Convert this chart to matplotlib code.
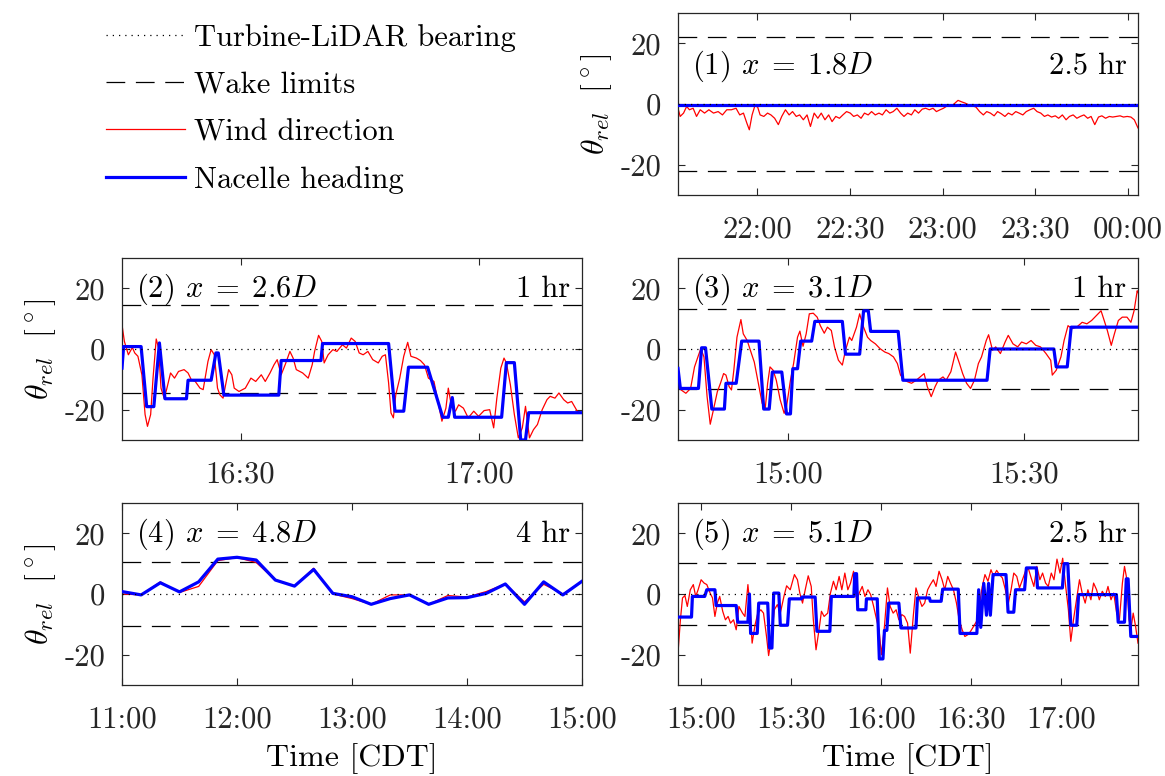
import numpy as np
import matplotlib
matplotlib.use("Agg")
import matplotlib.pyplot as plt
from matplotlib.lines import Line2D
from matplotlib.ticker import FixedLocator, FuncFormatter

plt.rcParams['font.family'] = 'serif'
plt.rcParams['font.serif'] = ['cmr10']
plt.rcParams['mathtext.fontset'] = 'cm'
plt.rcParams['axes.unicode_minus'] = False
plt.rcParams['axes.formatter.use_mathtext'] = False

# ---- case 1: x = 1.8D, minutes after 22:00 ----
p1_wind_t = [-25.7, -25.0, -23.9, -22.9, -22.0, -20.8, -19.7, -18.5, -17.1, -15.7, -14.2, -12.7,
             -11.3, -9.9, -8.4, -6.9, -5.7, -4.5, -3.4, -2.6, -1.7, -0.8, 0.1, 0.9, 2.1, 3.3,
             4.4, 5.6, 6.8, 7.9, 9.1, 10.3, 11.4, 12.6, 13.7, 14.9, 16.1, 17.2, 18.4, 19.6,
             20.7, 21.9, 23.1, 24.2, 25.4, 26.6, 27.7, 28.9, 30.1, 31.2, 32.4, 33.6, 34.7,
             35.9, 37.0, 38.2, 39.4, 40.5, 41.7, 42.9, 44.0, 45.2, 46.4, 47.5, 48.7, 49.9,
             51.0, 52.2, 53.4, 54.5, 55.7, 56.9, 58.0, 59.2, 60.3, 61.5, 62.7, 63.8, 65.0,
             66.2, 67.3, 68.5, 69.7, 70.8, 72.0, 73.2, 74.3, 75.5, 76.7, 77.8, 79.0, 80.2,
             81.3, 82.5, 83.7, 84.8, 86.0, 87.1, 88.3, 89.5, 90.6, 91.8, 93.0, 94.1, 95.3,
             96.5, 97.6, 98.8, 100.0, 101.1, 102.3, 103.5, 104.6, 105.8, 107.0, 108.1,
             109.3, 110.5, 111.6, 112.8, 114.0, 115.1, 116.3, 117.5, 118.6, 119.8, 121.0,
             122.1, 123.3]
p1_wind_deg = [-1.4, -4.1, -3.0, -0.8, -1.9, -1.4, -4.1, -1.9, -3.0, -1.9, -3.0, -2.5,
               -3.6, -1.9, -1.9, -1.4, -3.6, -3.0, -6.3, -8.5, -3.6, -0.6, -1.0, -3.6, -4.1,
               -3.0, -3.6, -4.7, -6.8, -4.1, -1.9, -3.6, -2.5, -4.1, -3.6, -5.2, -3.6, -7.4,
               -3.0, -4.7, -3.0, -5.2, -3.6, -5.8, -4.1, -4.7, -3.6, -2.5, -3.0, -4.1, -3.6,
               -4.7, -3.0, -3.6, -2.5, -3.6, -3.0, -3.6, -1.9, -3.0, -2.5, -1.4, -3.0, -4.1,
               -3.0, -3.6, -1.9, -3.0, -1.7, -1.4, -1.9, -1.4, -2.5, -1.9, -1.4, -0.6, -0.8,
               0.1, 1.2, 0.7, 0.3, -0.3, -0.6, -1.0, -2.5, -3.6, -2.5, -3.0, -3.9, -2.5,
               -3.2, -4.1, -3.0, -3.6, -2.5, -3.0, -3.6, -2.5, -1.9, -1.4, -2.5, -3.0, -4.1,
               -3.6, -4.3, -3.9, -4.7, -3.6, -5.2, -4.1, -3.6, -4.7, -4.1, -3.6, -4.7, -4.1,
               -6.8, -4.3, -3.9, -4.7, -4.1, -4.3, -4.1, -3.9, -4.3, -4.1, -4.3, -5.2, -7.9]
p1_nac_t = [-25.7, 123.3]
p1_nac_deg = [-0.3, -0.3]

# ---- case 2: x = 2.6D, minutes after 16:00 ----
p2_wind_t = [15.1, 15.4, 15.9, 16.4, 16.7, 17.1, 17.6, 18.0, 18.3, 18.7, 19.0, 19.4, 19.7,
             20.0, 20.4, 20.7, 21.2, 21.7, 22.2, 22.9, 23.4, 23.8, 24.3, 24.9, 25.3, 25.9,
             26.3, 26.7, 27.1, 27.4, 27.8, 28.2, 28.5, 28.9, 29.2, 29.8, 30.6, 31.3, 31.9,
             32.6, 33.1, 33.7, 34.2, 34.6, 35.1, 35.6, 36.2, 36.6, 37.0, 37.8, 38.5, 39.0,
             39.3, 39.8, 40.2, 40.5, 41.0, 41.6, 42.1, 42.8, 43.3, 43.9, 44.4, 44.9, 45.4,
             46.0, 46.6, 47.3, 47.8, 48.2, 48.6, 48.9, 49.2, 49.5, 50.0, 50.5, 51.0, 51.4,
             52.1, 52.6, 53.1, 53.6, 54.3, 54.8, 55.3, 55.8, 56.1, 56.5, 57.0, 57.4, 58.0,
             58.6, 59.3, 59.9, 60.6, 61.3, 61.8, 62.2, 62.7, 63.1, 63.4, 63.9, 64.4, 64.9,
             65.4, 65.8, 66.3, 66.8, 67.3, 67.9, 68.5, 68.9, 69.5, 70.0, 70.6, 71.1, 71.6,
             72.3, 72.9]
p2_wind_deg = [8.0, 2.5, -1.9, 0.5, -1.3, -2.4, -8.5, -21.6, -25.5, -21.6, -9.6, 3.3, 0.3,
               -12.9, -16.2, -13.4, -7.9, -9.6, -7.4, -6.8, -7.9, -10.1, -10.7, -12.9, -13.4,
               -4.1, -0.2, -1.9, -12.9, -15.1, -16.2, -10.7, -6.8, -8.5, -12.9, -14.0, -12.9,
               -9.6, -10.7, -8.5, -10.7, -7.9, -5.2, -3.5, -8.5, -5.2, -0.8, -3.0, -6.8, -7.9,
               -9.6, -5.2, -0.8, 4.5, 2.5, -4.6, -1.9, -0.2, -0.8, 1.4, 0.3, 3.6, 2.5, -1.3,
               -1.9, -0.8, -3.5, -4.6, -2.4, -1.9, -11.2, -21.1, -22.7, -15.1, -9.6, -2.4, 2.2,
               -2.4, -3.0, -3.8, -5.2, -9.6, -10.7, -17.3, -23.8, -19.5, -12.9, -18.9, -20.5,
               -18.4, -19.5, -22.7, -20.5, -22.2, -20.3, -20.0, -26.0, -16.2, -6.3, -3.0,
               -4.6, -11.8, -21.6, -29.3, -26.0, -18.9, -29.3, -26.6, -24.9, -20.0, -16.7,
               -15.6, -16.2, -14.5, -16.7, -17.8, -17.3, -20.5, -21.1]
p2_nac_t = [15.1, 15.3, 17.5, 18.2, 19.1, 19.8, 20.5, 23.2, 23.4, 26.3, 26.9, 27.2, 27.9,
            34.8, 35.1, 40.1, 40.3, 48.6, 49.4, 50.5, 51.1, 53.5, 55.4, 56.1, 56.6, 56.9,
            62.8, 63.4, 64.4, 65.2, 65.8, 66.2, 72.9]
p2_nac_deg = [-6.3, 0.8, 0.8, -19.0, -19.0, 2.0, -16.4, -16.4, -10.3, -10.3, -1.3, -1.3,
              -15.2, -15.2, -3.8, -3.8, 1.8, 1.8, -20.5, -20.5, -6.0, -6.0, -22.5, -22.5,
              -16.0, -22.5, -22.5, -4.5, -4.5, -30.0, -30.0, -21.0, -21.0]

# ---- case 3: x = 3.1D, minutes after 15:00 ----
p3_wind_t = [-14.0, -13.6, -13.0, -12.4, -11.9, -11.4, -11.1, -10.7, -10.3, -9.9, -9.5, -9.0,
             -8.6, -8.2, -7.9, -7.5, -7.2, -6.9, -6.5, -6.0, -5.7, -5.2, -4.8, -4.3, -3.7,
             -3.3, -2.9, -2.6, -2.3, -1.9, -1.5, -1.0, -0.5, -0.2, 0.3, 0.7, 1.2, 1.5, 1.9,
             2.3, 2.7, 3.2, 3.7, 4.1, 4.6, 5.0, 5.5, 5.9, 6.4, 6.9, 7.3, 7.8, 8.1, 8.7, 9.1,
             9.6, 10.1, 10.5, 11.1, 11.7, 12.3, 12.8, 13.4, 13.9, 14.3, 14.8, 15.2, 15.7,
             16.3, 16.8, 17.3, 17.7, 18.2, 18.7, 19.1, 19.7, 20.1, 20.7, 21.3, 21.8, 22.2,
             22.7, 23.2, 23.7, 24.2, 24.6, 25.2, 25.5, 26.0, 26.4, 27.0, 27.6, 28.0, 28.6,
             29.2, 29.7, 30.3, 30.9, 31.5, 32.1, 32.8, 33.4, 33.6, 34.1, 34.7, 35.1, 35.6,
             36.1, 36.7, 37.4, 38.0, 38.6, 39.2, 39.8, 40.2, 40.6, 41.1, 41.5, 42.0, 42.5,
             43.1, 43.6, 44.0, 44.4, 44.5]
p3_wind_deg = [-12.4, -13.5, -14.6, -13.0, -5.9, -2.1, 0.1, -2.6, -15.7, -24.8, -20.1, -14.1,
               -11.3, -8.1, -8.6, -12.4, -13.5, -7.0, 3.9, 9.7, 5.0, 2.8, -0.4, -4.3, -12.4,
               -17.9, -19.5, -11.3, -5.9, -7.0, -10.3, -16.8, -21.2, -19.0, -10.3, -4.8, 3.9,
               5.9, 0.9, 5.0, 11.6, 11.8, 10.5, 7.7, 5.2, 7.2, 6.1, 0.7, -3.7, -5.3, -0.4, 3.9,
               2.8, 7.2, 11.6, 7.2, 3.9, 2.8, 1.7, 0.1, -1.0, -1.5, -2.6, -4.8, -8.6, -10.3,
               -10.8, -11.3, -10.3, -9.2, -8.1, -12.4, -15.7, -12.4, -10.3, -9.2, -10.3, -7.5,
               -1.0, -4.8, -8.1, -11.3, -13.0, -10.3, -4.8, -2.6, 2.8, 4.7, -0.4, 0.7, -1.5,
               2.3, 4.5, 1.7, 0.7, 2.3, 1.7, 2.8, 1.2, 0.7, -1.5, -3.7, -8.6, -7.0, -2.6, 2.8,
               7.7, 6.7, 7.2, 8.8, 8.3, 9.4, 11.0, 12.6, 9.4, 6.1, 1.2, 5.0, 9.4, 10.5, 10.5,
               8.8, 12.6, 19.2, 18.6]
p3_nac_t = [-14.0, -13.7, -11.4, -11.0, -10.5, -9.7, -8.1, -7.9, -6.6, -5.9, -3.7, -3.1, -2.4,
            -2.0, -0.8, -0.2, 0.3, 0.6, 1.2, 1.6, 3.0, 3.4, 6.9, 7.3, 9.1, 9.6, 10.2, 10.5,
            14.0, 14.6, 25.3, 25.7, 33.8, 34.1, 35.5, 36.0, 44.5]
p3_nac_deg = [-6.4, -13.0, -13.0, 0.4, 0.4, -19.8, -19.8, -11.3, -11.3, 2.6, 2.6, -19.8,
              -19.8, -7.6, -7.6, -21.4, -21.4, -6.5, -6.5, 2.6, 2.6, 9.1, 9.1, -1.7, -1.7,
              12.6, 12.6, 5.8, 5.8, -10.3, -10.3, 0.0, 0.0, -5.9, -5.9, 7.2, 7.2]

# ---- case 4: x = 4.8D, 10-min averages, minutes after 11:00 ----
p4_t = [0, 10, 20, 30, 40, 50, 60, 70, 80, 90, 100, 110, 120, 130, 140, 150, 160, 170, 180,
        190, 200, 210, 220, 230, 240]
p4_wind_deg = [0.0, -0.3, 4.0, 0.5, 2.5, 11.0, 12.0, 10.4, 4.6, 2.6, 8.5, 0.0, -1.5, -3.4,
               -0.3, -0.3, -3.4, -0.5, -1.0, 0.8, 3.3, -2.6, 3.2, 0.0, 4.2]
p4_nac_deg = [0.8, -0.3, 3.7, 0.7, 4.0, 11.5, 12.1, 11.2, 4.6, 2.6, 8.1, 0.2, -0.9, -3.4,
              -1.5, -0.3, -3.4, -1.3, -1.2, 0.2, 3.3, -3.4, 4.0, -0.3, 4.2]

# ---- case 5: x = 5.1D, minutes after 15:00 ----
p5_wind_t = [-7.7, -6.9, -6.2, -5.4, -4.6, -3.6, -2.6, -1.8, -1.0, 0.0, 1.0, 1.9, 3.0, 3.8,
             4.6, 5.4, 6.2, 7.2, 8.1, 9.0, 9.8, 10.8, 11.7, 12.6, 13.8, 14.6, 15.6, 16.3,
             17.0, 18.0, 18.9, 19.9, 20.8, 21.8, 22.5, 23.5, 24.4, 25.4, 26.4, 27.6, 28.5,
             29.7, 31.1, 32.1, 32.9, 33.8, 34.7, 35.7, 36.7, 37.4, 38.3, 39.3, 40.1, 41.0,
             42.2, 43.1, 44.1, 45.0, 46.0, 46.9, 47.9, 48.9, 49.8, 50.8, 51.8, 52.7, 53.7,
             54.6, 55.6, 56.5, 57.5, 58.5, 59.3, 60.1, 61.1, 62.1, 63.0, 64.0, 65.0, 65.9,
             66.9, 67.8, 68.8, 69.7, 70.7, 71.6, 72.6, 73.6, 74.5, 75.5, 76.4, 77.4, 78.3,
             79.3, 80.3, 81.2, 82.2, 83.1, 84.1, 85.1, 86.0, 87.0, 87.9, 88.9, 89.8, 90.8,
             91.8, 92.7, 93.7, 94.6, 95.6, 96.6, 97.5, 98.5, 99.4, 100.4, 101.4, 102.3,
             103.3, 104.2, 105.2, 106.1, 107.1, 108.1, 109.0, 110.0, 110.9, 111.9, 112.9,
             113.8, 114.8, 115.7, 116.7, 117.6, 118.6, 119.6, 120.5, 121.5, 122.4, 123.2,
             124.1, 125.1, 126.1, 127.0, 128.0, 128.9, 129.9, 130.8, 131.8, 132.7, 133.7,
             134.7, 135.6, 136.6, 137.5, 138.5, 139.4, 140.4, 141.1, 141.8, 142.6, 143.3,
             144.0, 144.8, 145.6]
p5_wind_deg = [-19.5, -8.5, -1.3, -0.5, -4.1, 1.4, 3.1, -0.8, 1.4, 4.7, 3.6, 3.1, 0.3, -1.3,
               -7.4, -3.0, -0.8, -5.7, -8.5, -7.4, -9.6, -8.5, -11.8, -4.1, -6.3, -7.4, 3.1,
               -4.6, -16.2, -10.1, -6.3, -5.2, -6.3, -14.0, -20.3, -14.0, -5.2, -3.5, -6.3,
               -0.8, 2.7, 1.4, 6.4, 4.7, 0.3, -3.0, 1.4, 6.0, 2.5, -8.5, -18.4, -11.8, -5.7,
               -7.4, -6.3, 0.3, 4.2, 1.4, 5.8, 1.4, 6.9, 1.4, 3.6, 7.5, -1.9, 0.3, 2.5, -0.8,
               1.4, -0.2, -4.1, -8.5, -11.8, -20.0, -10.7, 2.0, -4.1, -6.3, -5.2, -8.5, -6.8,
               -7.4, -9.6, -19.5, -7.4, 2.0, -1.3, -4.1, -3.0, 1.4, 3.1, 4.7, 2.5, 7.5, 4.7,
               1.4, 5.8, 3.6, 1.4, -3.0, -8.5, -11.8, -14.0, -13.4, -12.3, -10.7, -9.0, -4.1,
               2.5, 6.4, 4.2, 8.0, 5.8, 7.8, 6.4, 5.3, 1.4, -3.5, 1.4, 6.9, 5.8, 2.0, 4.7, 7.5,
               8.6, 5.3, 2.5, 9.1, 4.7, 6.9, 3.6, 2.5, 6.9, 4.7, 11.5, 6.9, 11.8, 2.5, -5.2,
               -15.6, -8.5, -1.9, 4.7, 0.3, -3.0, 1.4, -1.9, 3.6, 1.4, -1.9, 0.9, -0.8, 2.5,
               -1.9, 0.3, -6.3, -8.5, 3.6, 9.1, 5.3, -8.5, -11.2, -6.3, -10.7, -16.2]
p5_nac_t = [-7.7, -3.2, -2.9, 1.2, 1.9, 4.6, 5.0, 11.7, 12.2, 15.6, 16.1, 16.5, 18.7, 19.2,
            22.2, 22.8, 23.6, 24.2, 25.9, 26.4, 28.8, 29.4, 33.5, 33.6, 38.0, 38.6, 42.9,
            43.4, 50.9, 51.2, 51.8, 52.2, 54.9, 55.1, 58.7, 59.4, 60.6, 61.1, 61.9, 62.5,
            65.9, 66.6, 71.6, 72.1, 76.1, 76.4, 80.0, 80.5, 85.7, 86.3, 91.9, 92.5, 93.2,
            94.2, 95.1, 95.8, 96.4, 97.3, 101.6, 102.3, 104.2, 104.8, 107.8, 108.4, 111.7,
            112.1, 120.4, 121.0, 122.2, 123.2, 125.2, 125.8, 138.4, 139.0, 141.1, 141.7,
            142.3, 143.2, 145.6]
p5_nac_deg = [-7.6, -7.6, -0.8, -0.8, 1.4, 1.4, -3.8, -3.8, -9.3, -9.3, 0.0, -13.0, -13.0,
              -3.0, -3.0, -17.8, -17.8, 0.3, 0.3, -10.3, -10.3, -1.6, -1.6, -1.0, -1.0,
              -12.3, -12.3, -0.8, -0.8, 6.7, 6.7, -5.2, -5.2, -1.6, -1.6, -21.4, -21.4,
              -12.0, -12.0, -3.0, -3.0, -11.2, -11.2, -1.3, -1.3, -2.4, -2.4, 1.6, 1.6,
              -13.0, -13.0, 1.4, -11.0, 3.5, -7.0, 3.5, -7.0, 6.4, 6.4, -6.0, -6.0, 1.4, 1.4,
              8.6, 8.6, 2.0, 2.0, 10.0, 10.0, -10.3, -10.3, -0.2, -0.2, -9.3, -9.3, 5.0, 5.0,
              -14.0, -14.0]

# per-case settings: base hour, axis limits [min], tick minutes, wake half-width [deg]
base_hours = [22, 16, 15, 11, 15]
x_limits = [(-25.7, 123.3), (15.1, 72.9), (-14.0, 44.5), (0, 240), (-7.7, 145.6)]
tick_minutes = [[0, 30, 60, 90, 120], [30, 60], [0, 30], [0, 60, 120, 180, 240],
                [0, 30, 60, 90, 120]]
wake_limits = [22.0, 14.6, 13.1, 10.4, 10.2]
case_tags = [r'(1) $x\;=\;1.8D$', r'(2) $x\;=\;2.6D$', r'(3) $x\;=\;3.1D$',
             r'(4) $x\;=\;4.8D$', r'(5) $x\;=\;5.1D$']
case_spans = ['2.5 hr', '1 hr', '1 hr', '4 hr', '2.5 hr']
yticks = [-20, 0, 20]
ytick_labels = ['-20', '0', '20']

FS = 22
DARK = '#262626'
DASH = (15, 8.5)
DOT = (1, 4)


def hhmm(h, pos=None):
    hr = int(np.floor(h + 1e-6))
    mins = int(round((h - hr) * 60))
    return f"{hr % 24:02d}:{mins:02d}"


def draw_case(ax, k, wind_t, wind_deg, nac_t, nac_deg, ylabel=True, xlabel=False):
    base = base_hours[k]
    wt = base + np.array(wind_t) / 60.0
    nt = base + np.array(nac_t) / 60.0
    lo, hi = x_limits[k]
    lo, hi = base + lo / 60.0, base + hi / 60.0
    w = wake_limits[k]
    ax.plot([lo, hi], [w, w], color='k', lw=0.9, dashes=DASH, zorder=1)
    ax.plot([lo, hi], [-w, -w], color='k', lw=0.9, dashes=DASH, zorder=1)
    ax.plot(wt, wind_deg, color='#ff0000', lw=0.9, zorder=2)
    ax.plot(nt, nac_deg, color='#0000ff', lw=2.3, zorder=3)
    ax.plot([lo, hi], [0, 0], color='k', lw=0.9, dashes=DOT, zorder=4)
    ax.set_xlim(lo, hi)
    ax.set_ylim(-30, 30)
    ax.xaxis.set_major_locator(FixedLocator([base + m / 60.0 for m in tick_minutes[k]]))
    ax.xaxis.set_major_formatter(FuncFormatter(hhmm))
    ax.set_yticks(yticks)
    ax.set_yticklabels(ytick_labels)
    ax.tick_params(direction='in', length=5, width=0.8, colors=DARK, labelsize=FS,
                   top=True, right=True, pad=12)
    ax.tick_params(axis='x', pad=15)
    for s in ax.spines.values():
        s.set_color(DARK)
        s.set_linewidth(0.9)
    ty = 0.71 if k == 0 else 0.83
    ax.text(0.03, ty, case_tags[k], transform=ax.transAxes, fontsize=FS, va='center', ha='left')
    ax.text(0.975, ty, case_spans[k], transform=ax.transAxes, fontsize=FS, va='center',
            ha='right')
    if ylabel:
        ax.set_ylabel(r'$\theta_{rel}\ \ [^\circ]$', fontsize=FS + 1)
        ax.yaxis.set_label_coords(-0.14, 0.5)
    if xlabel:
        ax.set_xlabel('Time [CDT]', fontsize=FS + 1, labelpad=7)


fig = plt.figure(figsize=(11.65, 7.76), dpi=100)
W = 460 / 1165
H = 182 / 776
col_x = [122 / 1165, 678 / 1165]
row_y = [1 - 195 / 776, 1 - 440 / 776, 1 - 685 / 776]

ax1 = fig.add_axes([col_x[1], row_y[0], W, H])
ax2 = fig.add_axes([col_x[0], row_y[1], W, H])
ax3 = fig.add_axes([col_x[1], row_y[1], W, H])
ax4 = fig.add_axes([col_x[0], row_y[2], W, H])
ax5 = fig.add_axes([col_x[1], row_y[2], W, H])

draw_case(ax1, 0, p1_wind_t, p1_wind_deg, p1_nac_t, p1_nac_deg)
draw_case(ax2, 1, p2_wind_t, p2_wind_deg, p2_nac_t, p2_nac_deg)
draw_case(ax3, 2, p3_wind_t, p3_wind_deg, p3_nac_t, p3_nac_deg, ylabel=False)
draw_case(ax4, 3, p4_t, p4_wind_deg, p4_t, p4_nac_deg, xlabel=True)
draw_case(ax5, 4, p5_wind_t, p5_wind_deg, p5_nac_t, p5_nac_deg, ylabel=False, xlabel=True)

handles = [Line2D([], [], color='k', lw=0.9, dashes=DOT),
           Line2D([], [], color='k', lw=0.9, dashes=DASH),
           Line2D([], [], color='#ff0000', lw=0.9),
           Line2D([], [], color='#0000ff', lw=2.3)]
labels = ['Turbine-LiDAR bearing', 'Wake limits', 'Wind direction', 'Nacelle heading']
fig.legend(handles, labels, loc='upper left', bbox_to_anchor=(0.067, 1.005), frameon=False,
           fontsize=FS, handlelength=2.6, handletextpad=0.3, labelspacing=0.65)

fig.savefig('out.png', dpi=100)
